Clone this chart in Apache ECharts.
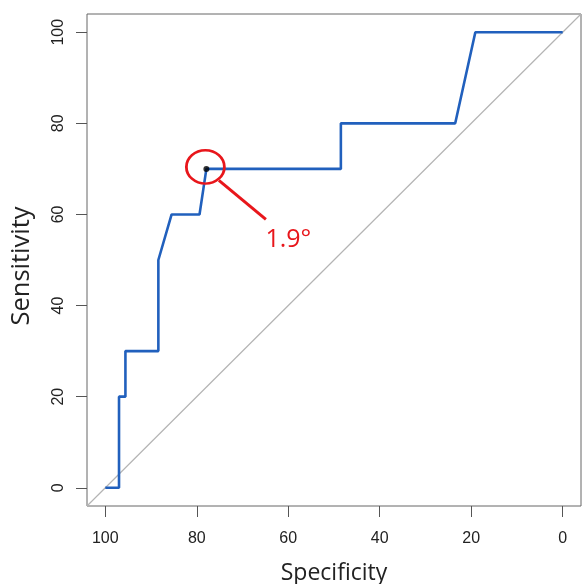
<!DOCTYPE html>
<html>
<head>
<meta charset="utf-8">
<script src="https://cdn.jsdelivr.net/npm/echarts@6/dist/echarts.min.js"></script>
<style>
  html, body { margin: 0; padding: 0; background: #fff; }
  #chart { width: 582px; height: 584px; }
</style>
</head>
<body>
<div id="chart"></div>
<script>
// ROC curve data (Specificity %, Sensitivity %)
const specificity = [100, 97.0, 97.0, 95.6, 95.6, 88.4, 88.4, 85.5, 79.4, 77.9, 48.5, 48.5, 23.5, 19.1, 0];
const sensitivity = [0, 0, 20, 20, 30, 30, 50, 60, 60, 70, 70, 80, 80, 100, 100];
// chance (diagonal) line, spanning the axis limits
const chanceSpec = [104, -4];
const chanceSens = [-4, 104];
// highlighted threshold point and its annotation
const bestSpec = [77.9];
const bestSens = [70];
const bestLabel = '1.9°';
// tick labels
const tickValues = [0, 20, 40, 60, 80, 100];
const xTitle = 'Specificity';
const yTitle = 'Sensitivity';

const rocData = specificity.map((s, i) => [s, sensitivity[i]]);
const chanceData = chanceSpec.map((s, i) => [s, chanceSens[i]]);
const bestData = bestSpec.map((s, i) => [s, bestSens[i]]);

const chart = echarts.init(document.getElementById('chart'), null, { renderer: 'canvas' });

const labelFont = { fontFamily: 'Liberation Sans', fontSize: 16, color: '#222' };

chart.setOption({
  animation: false,
  backgroundColor: '#fff',
  grid: { left: 87, right: 1, top: 14, bottom: 78, show: true, borderColor: '#666', borderWidth: 1, backgroundColor: 'transparent' },
  xAxis: {
    type: 'value', inverse: true, min: -4, max: 104, position: 'bottom',
    axisLine: { show: false, onZero: false },
    splitLine: { show: false },
    axisTick: { show: true, length: 11, customValues: tickValues, lineStyle: { color: '#555', width: 1 } },
    axisLabel: Object.assign({ margin: 25, customValues: tickValues }, labelFont)
  },
  yAxis: {
    type: 'value', min: -4, max: 104, position: 'left',
    axisLine: { show: false, onZero: false },
    splitLine: { show: false },
    axisTick: { show: true, length: 11, customValues: tickValues, lineStyle: { color: '#555', width: 1 } },
    axisLabel: Object.assign({ margin: 20, rotate: 90, customValues: tickValues }, labelFont)
  },
  series: [
    {
      type: 'line', data: chanceData, showSymbol: false, clip: true, silent: true,
      lineStyle: { color: '#b4b4b4', width: 1.2 }, z: 1
    },
    {
      type: 'line', data: rocData, showSymbol: false, clip: true,
      lineStyle: { color: '#2160bd', width: 2.6 }, z: 2
    },
    {
      type: 'scatter', data: bestData, symbol: 'circle', symbolSize: 6,
      itemStyle: { color: '#000' }, z: 4
    }
  ]
});

const p = chart.convertToPixel({ seriesIndex: 2 }, bestData[0]);
const red = '#e8161b';
const gridRect = { left: 87, right: 581, top: 14, bottom: 506 };

chart.setOption({
  graphic: [
    {
      type: 'circle', x: p[0] - 1, y: p[1] - 2, scaleY: 0.88,
      shape: { cx: 0, cy: 0, r: 19 },
      style: { fill: 'none', stroke: red, lineWidth: 2.8 }, z: 10
    },
    {
      type: 'line',
      shape: { x1: p[0] + 12.5, y1: p[1] + 11.5, x2: p[0] + 59.5, y2: p[1] + 50.5 },
      style: { stroke: red, lineWidth: 3 }, z: 10
    },
    {
      type: 'text', x: p[0] + 59, y: p[1] + 71,
      style: { text: bestLabel, fill: red, fontFamily: 'Open Sans', fontSize: 25, textAlign: 'left', textVerticalAlign: 'middle' }, z: 10
    },
    {
      type: 'text', x: (gridRect.left + gridRect.right) / 2, y: 573,
      style: { text: xTitle, fill: '#222', fontFamily: 'Open Sans', fontSize: 23, textAlign: 'center', textVerticalAlign: 'middle' }
    },
    {
      type: 'text', x: 21.5, y: 266, rotation: Math.PI / 2,
      style: { text: yTitle, fill: '#222', fontFamily: 'Open Sans', fontSize: 25.5, textAlign: 'center', textVerticalAlign: 'middle' }
    }
  ]
});
</script>
</body>
</html>
